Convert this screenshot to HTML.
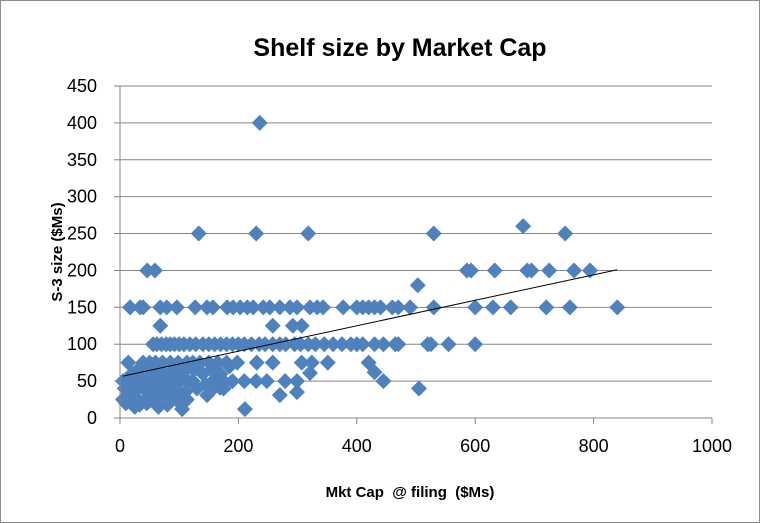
<!DOCTYPE html>
<html><head><meta charset="utf-8"><style>
body{margin:0;background:#fff;}
svg{display:block;font-family:"Liberation Sans",Arial,sans-serif;}
</style></head><body>
<svg id="chart" width="760" height="523" viewBox="0 0 760 523">
<rect x="0.5" y="0.5" width="759" height="522" fill="#fff" stroke="#8c8c8c"/>
<text x="400" y="56" text-anchor="middle" font-size="25" font-weight="bold" fill="#000">Shelf size by Market Cap</text>
<text transform="translate(62,252) rotate(-90)" text-anchor="middle" font-size="15" font-weight="bold">S-3 size ($Ms)</text>
<text x="410" y="497" text-anchor="middle" font-size="15" font-weight="bold" xml:space="preserve">Mkt Cap  @ filing  ($Ms)</text>
<g id="grid"></g><g id="pts"></g><g id="trend"></g><g id="axes"></g>
</svg>
<script>
const xTicks=[0,200,400,600,800,1000];
const yTicks=[0,50,100,150,200,250,300,350,400,450];
const xVals=[236,133,230,318,530,752,681,46,59,586,593,633,688,695,725,767,794,503,
17,34,39,68,79,96,127,147,157,181,191,203,215,225,242,253,270,287,299,321,333,343,377,400,410,420,430,440,460,470,490,530,600,630,660,720,760,840,
68,258,292,307,
56,62,70,78,85,92,100,108,118,128,140,150,160,170,180,190,200,210,222,235,245,258,270,280,295,305,318,330,345,360,375,390,400,410,430,445,465,470,520,525,555,600,
14,39,50,60,72,85,98,113,123,135,150,165,180,198,231,258,307,324,351,420,430,445,
5,15,25,40,55,70,85,100,115,123,157,175,190,210,230,248,279,299,321,
5,12,20,30,40,50,60,70,80,90,100,113,10,25,45,65,85,105,147,169,270,299,211,505,
20,30,45,55,65,75,90,105,110,125,140,155,170,185,
8,18,28,38,48,58,68,78,95,110,130,145,160,175,
22,33,48,62,80,95,35,52,70,88];
const yVals=[400,250,250,250,250,250,260,200,200,200,200,200,200,200,200,200,200,180,
150,150,150,150,150,150,150,150,150,150,150,150,150,150,150,150,150,150,150,150,150,150,150,150,150,150,150,150,150,150,150,150,150,150,150,150,150,150,
125,125,125,125,
100,100,100,100,100,100,100,100,100,100,100,100,100,100,100,100,100,100,100,100,100,100,100,100,100,100,100,100,100,100,100,100,100,100,100,100,100,100,100,100,100,100,
75,75,75,75,75,75,75,75,75,75,75,75,75,75,75,75,75,75,75,75,62,50,
50,50,50,50,50,50,50,50,50,50,50,50,50,50,50,50,50,50,61,
25,30,35,25,40,30,25,35,28,40,30,25,20,15,20,15,25,12,31,41,31,35,12,40,
60,65,60,70,65,60,65,60,70,65,60,65,60,70,
40,45,38,42,35,45,38,40,45,35,40,45,42,40,
20,18,22,20,18,25,55,55,55,55];
const X0=120,X1=712,Y0=418,Y1=86;
const sx=v=>X0+(v-0)/1000*(X1-X0), sy=v=>Y0-(v/450)*(Y0-Y1);
const NS="http://www.w3.org/2000/svg";
function mk(t,a){const e=document.createElementNS(NS,t);for(const k in a)e.setAttribute(k,a[k]);return e;}
const grid=document.getElementById('grid'),axes=document.getElementById('axes'),pts=document.getElementById('pts'),tr=document.getElementById('trend');
yTicks.forEach(v=>{
 if(v>0){const l=mk('line',{x1:X0,x2:X1,y1:sy(v),y2:sy(v),stroke:'#868686','stroke-width':1});
 
 grid.appendChild(l);}
 const tk=mk('line',{x1:X0-6,x2:X0,y1:sy(v),y2:sy(v),stroke:'#868686'});
 
 axes.appendChild(tk);
 const t=mk('text',{x:97,y:sy(v)+6,'text-anchor':'end','font-size':18});t.textContent=v;
 
 axes.appendChild(t);
});
xTicks.forEach(v=>{
 const tk=mk('line',{x1:sx(v),x2:sx(v),y1:Y0,y2:Y0+6,stroke:'#868686'});
 
 axes.appendChild(tk);
 const t=mk('text',{x:sx(v),y:Y0+34,'text-anchor':'middle','font-size':18});t.textContent=v;
 
 axes.appendChild(t);
});
const ya=mk('line',{x1:X0,x2:X0,y1:Y1,y2:Y0,stroke:'#868686'});

axes.appendChild(ya);
const xa=mk('line',{x1:X0,x2:X1,y1:Y0,y2:Y0,stroke:'#868686'});

axes.appendChild(xa);
xVals.forEach((xv,i)=>{
 const cx=sx(xv),cy=sy(yVals[i]),r=8;
 const p=mk('polygon',{points:`${cx},${cy-r} ${cx+r},${cy} ${cx},${cy+r} ${cx-r},${cy}`,fill:'#4f81bd'});
 
 pts.appendChild(p);
});
let n=xVals.length,sX=0,sY=0,sXY=0,sXX=0,mn=Infinity,mx=-Infinity;
xVals.forEach((x,i)=>{sX+=x;sY+=yVals[i];sXY+=x*yVals[i];sXX+=x*x;mn=Math.min(mn,x);mx=Math.max(mx,x);});
const b=(n*sXY-sX*sY)/(n*sXX-sX*sX),a=(sY-b*sX)/n;
const tl=mk('line',{x1:sx(mn),y1:sy(a+b*mn),x2:sx(mx),y2:sy(a+b*mx),stroke:'#000','stroke-width':1});

tr.appendChild(tl);
</script>
</body></html>
